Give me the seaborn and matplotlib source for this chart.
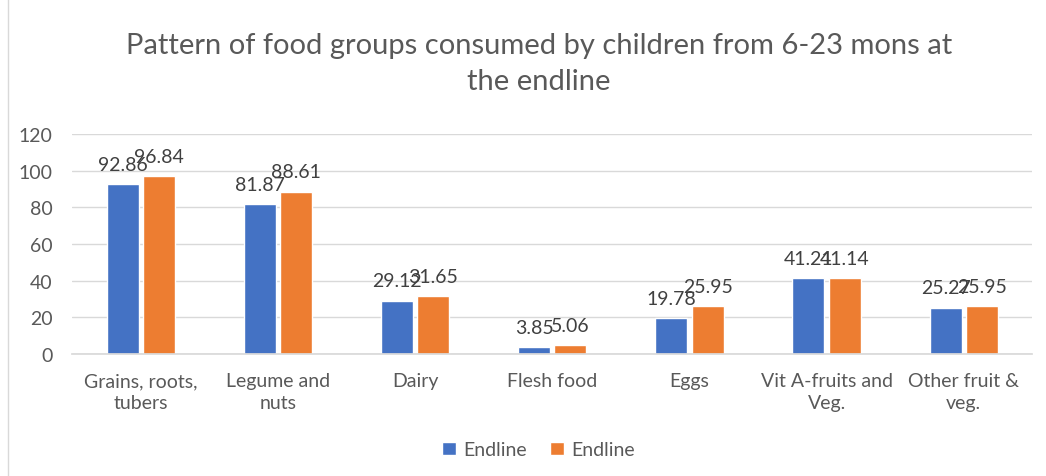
import matplotlib
matplotlib.use("Agg")
import matplotlib.pyplot as plt
import seaborn as sns
import pandas as pd
from matplotlib.patches import Patch, Rectangle

categories = ["Grains, roots,\ntubers", "Legume and\nnuts", "Dairy", "Flesh food", "Eggs",
              "Vit A-fruits and\nVeg.", "Other fruit &\nveg."]
series_names = ["Endline", "Endline"]
series1 = [92.86, 81.87, 29.12, 3.85, 19.78, 41.21, 25.27]
series2 = [96.84, 88.61, 31.65, 5.06, 25.95, 41.14, 25.95]
yticks = [0, 20, 40, 60, 80, 100, 120]
title = "Pattern of food groups consumed by children from 6-23 mons at\nthe endline"
colors = ["#4472C4", "#ED7D31"]

rows = []
for i, c in enumerate(categories):
    rows.append({"cat": c, "series": "s0", "value": series1[i]})
    rows.append({"cat": c, "series": "s1", "value": series2[i]})
df = pd.DataFrame(rows)

sns.set_theme(style="white")
plt.rcParams["font.family"] = ["Lato", "DejaVu Sans"]
text_color = "#595959"

fig = plt.figure(figsize=(10.46, 4.77), dpi=100)
ax = fig.add_axes([0.069, 0.256, 0.918, 0.461])

sns.barplot(data=df, x="cat", y="value", hue="series", order=categories,
            hue_order=["s0", "s1"], palette=colors, width=0.53, gap=0.12,
            ax=ax, legend=False, saturation=1)

for cont in ax.containers:
    ax.bar_label(cont, labels=[f"{v:.2f}" for v in cont.datavalues], padding=8,
                 fontsize=14, color="#404040")

ax.set_ylim(0, 120)
ax.set_yticks(yticks)
ax.set_yticklabels([str(t) for t in yticks], fontsize=14, color=text_color)
ax.set_xticks(range(len(categories)))
ax.set_xticklabels(categories, fontsize=14, color=text_color, linespacing=1.35)
ax.set_xlim(-0.5, len(categories) - 0.5)
ax.tick_params(axis="x", length=0, pad=13)
ax.tick_params(axis="y", length=0, pad=14)
ax.set_xlabel("")
ax.set_ylabel("")
ax.yaxis.grid(True, color="#D9D9D9", linewidth=1)
ax.set_axisbelow(True)
for s in ["top", "right", "left"]:
    ax.spines[s].set_visible(False)
ax.spines["bottom"].set_color("#D9D9D9")

fig.text(0.515, 0.93, title, ha="center", va="top", fontsize=21, color=text_color,
         linespacing=1.45)

handles = [Patch(facecolor=colors[0]), Patch(facecolor=colors[1])]
fig.legend(handles, series_names, loc="center", bbox_to_anchor=(0.515, 0.055), ncol=2,
           frameon=False, fontsize=14, labelcolor=text_color, handlelength=0.7,
           handleheight=0.7, columnspacing=1.2, handletextpad=0.4)

fig.patches.append(Rectangle((0.008, -0.01), 1.2, 1.2, transform=fig.transFigure,
                             fill=False, edgecolor="#D9D9D9", linewidth=1))

fig.savefig("out.png", dpi=100)
